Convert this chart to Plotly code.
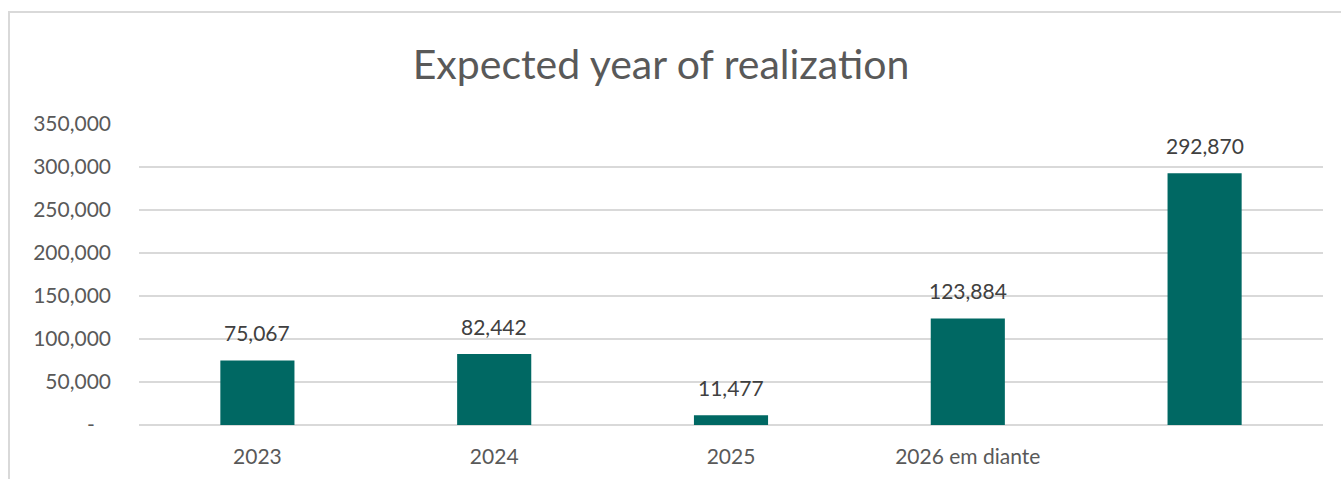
import plotly.graph_objects as go

# Chart data
categories = ["2023", "2024", "2025", "2026 em diante", ""]
values = [75067, 82442, 11477, 123884, 292870]
y_ticks = [0, 50000, 100000, 150000, 200000, 250000, 300000, 350000]

BAR_COLOR = "#006863"
GRID_COLOR = "#D9D9D9"
AXIS_TEXT = "#595959"
LABEL_TEXT = "#404040"
FONT = "Lato"

W, H = 1341, 479
L, R, T, B = 139, 18, 124, 54
plot_w = W - L - R
plot_h = H - T - B

x_pos = list(range(len(categories)))

fig = go.Figure()
fig.add_trace(go.Bar(
    x=x_pos,
    y=values,
    marker=dict(color=BAR_COLOR, line=dict(width=0)),
    hoverinfo="skip",
))

# value labels above the bars
for xp, v in zip(x_pos, values):
    fig.add_annotation(
        x=xp, y=v, text=f"{v:,}", showarrow=False,
        yanchor="bottom", yshift=13,
        font=dict(family=FONT, size=21, color=LABEL_TEXT),
    )

def fmt_tick(v):
    return "-\u00a0\u00a0\u00a0" if v == 0 else f"{v:,}"

# outer chart frame
fig.add_shape(
    type="rect", xref="paper", yref="paper",
    x0=(9 - L) / plot_w, x1=(W + 6 - L) / plot_w,
    y0=-(B + 10) / plot_h, y1=(H - B - 12) / plot_h,
    line=dict(color=GRID_COLOR, width=2), fillcolor="rgba(0,0,0,0)",
    layer="below",
)

fig.update_layout(
    width=W, height=H,
    margin=dict(l=L, r=R, t=T, b=B),
    paper_bgcolor="white", plot_bgcolor="white",
    showlegend=False,
    bargap=0.687,
    title=dict(
        text="Expected year of realization",
        x=661 / W, xanchor="center", xref="container",
        y=1 - 65 / H, yanchor="middle", yref="container",
        font=dict(family=FONT, size=41, color=AXIS_TEXT),
    ),
    xaxis=dict(
        tickmode="array", tickvals=x_pos, ticktext=categories,
        range=[-0.5, len(categories) - 0.5],
        showgrid=False, zeroline=False, showline=False,
        ticks="", ticklabelstandoff=17,
        tickfont=dict(family=FONT, size=21, color=AXIS_TEXT),
    ),
    yaxis=dict(
        range=[0, 350000],
        tickmode="array", tickvals=y_ticks,
        ticktext=[fmt_tick(v) for v in y_ticks],
        showgrid=True, gridcolor=GRID_COLOR, gridwidth=1.6,
        zeroline=True, zerolinecolor=GRID_COLOR, zerolinewidth=1.6,
        showline=False, ticks="", ticklabelstandoff=27,
        tickfont=dict(family=FONT, size=21, color=AXIS_TEXT),
    ),
)

fig.write_html("out.html")
